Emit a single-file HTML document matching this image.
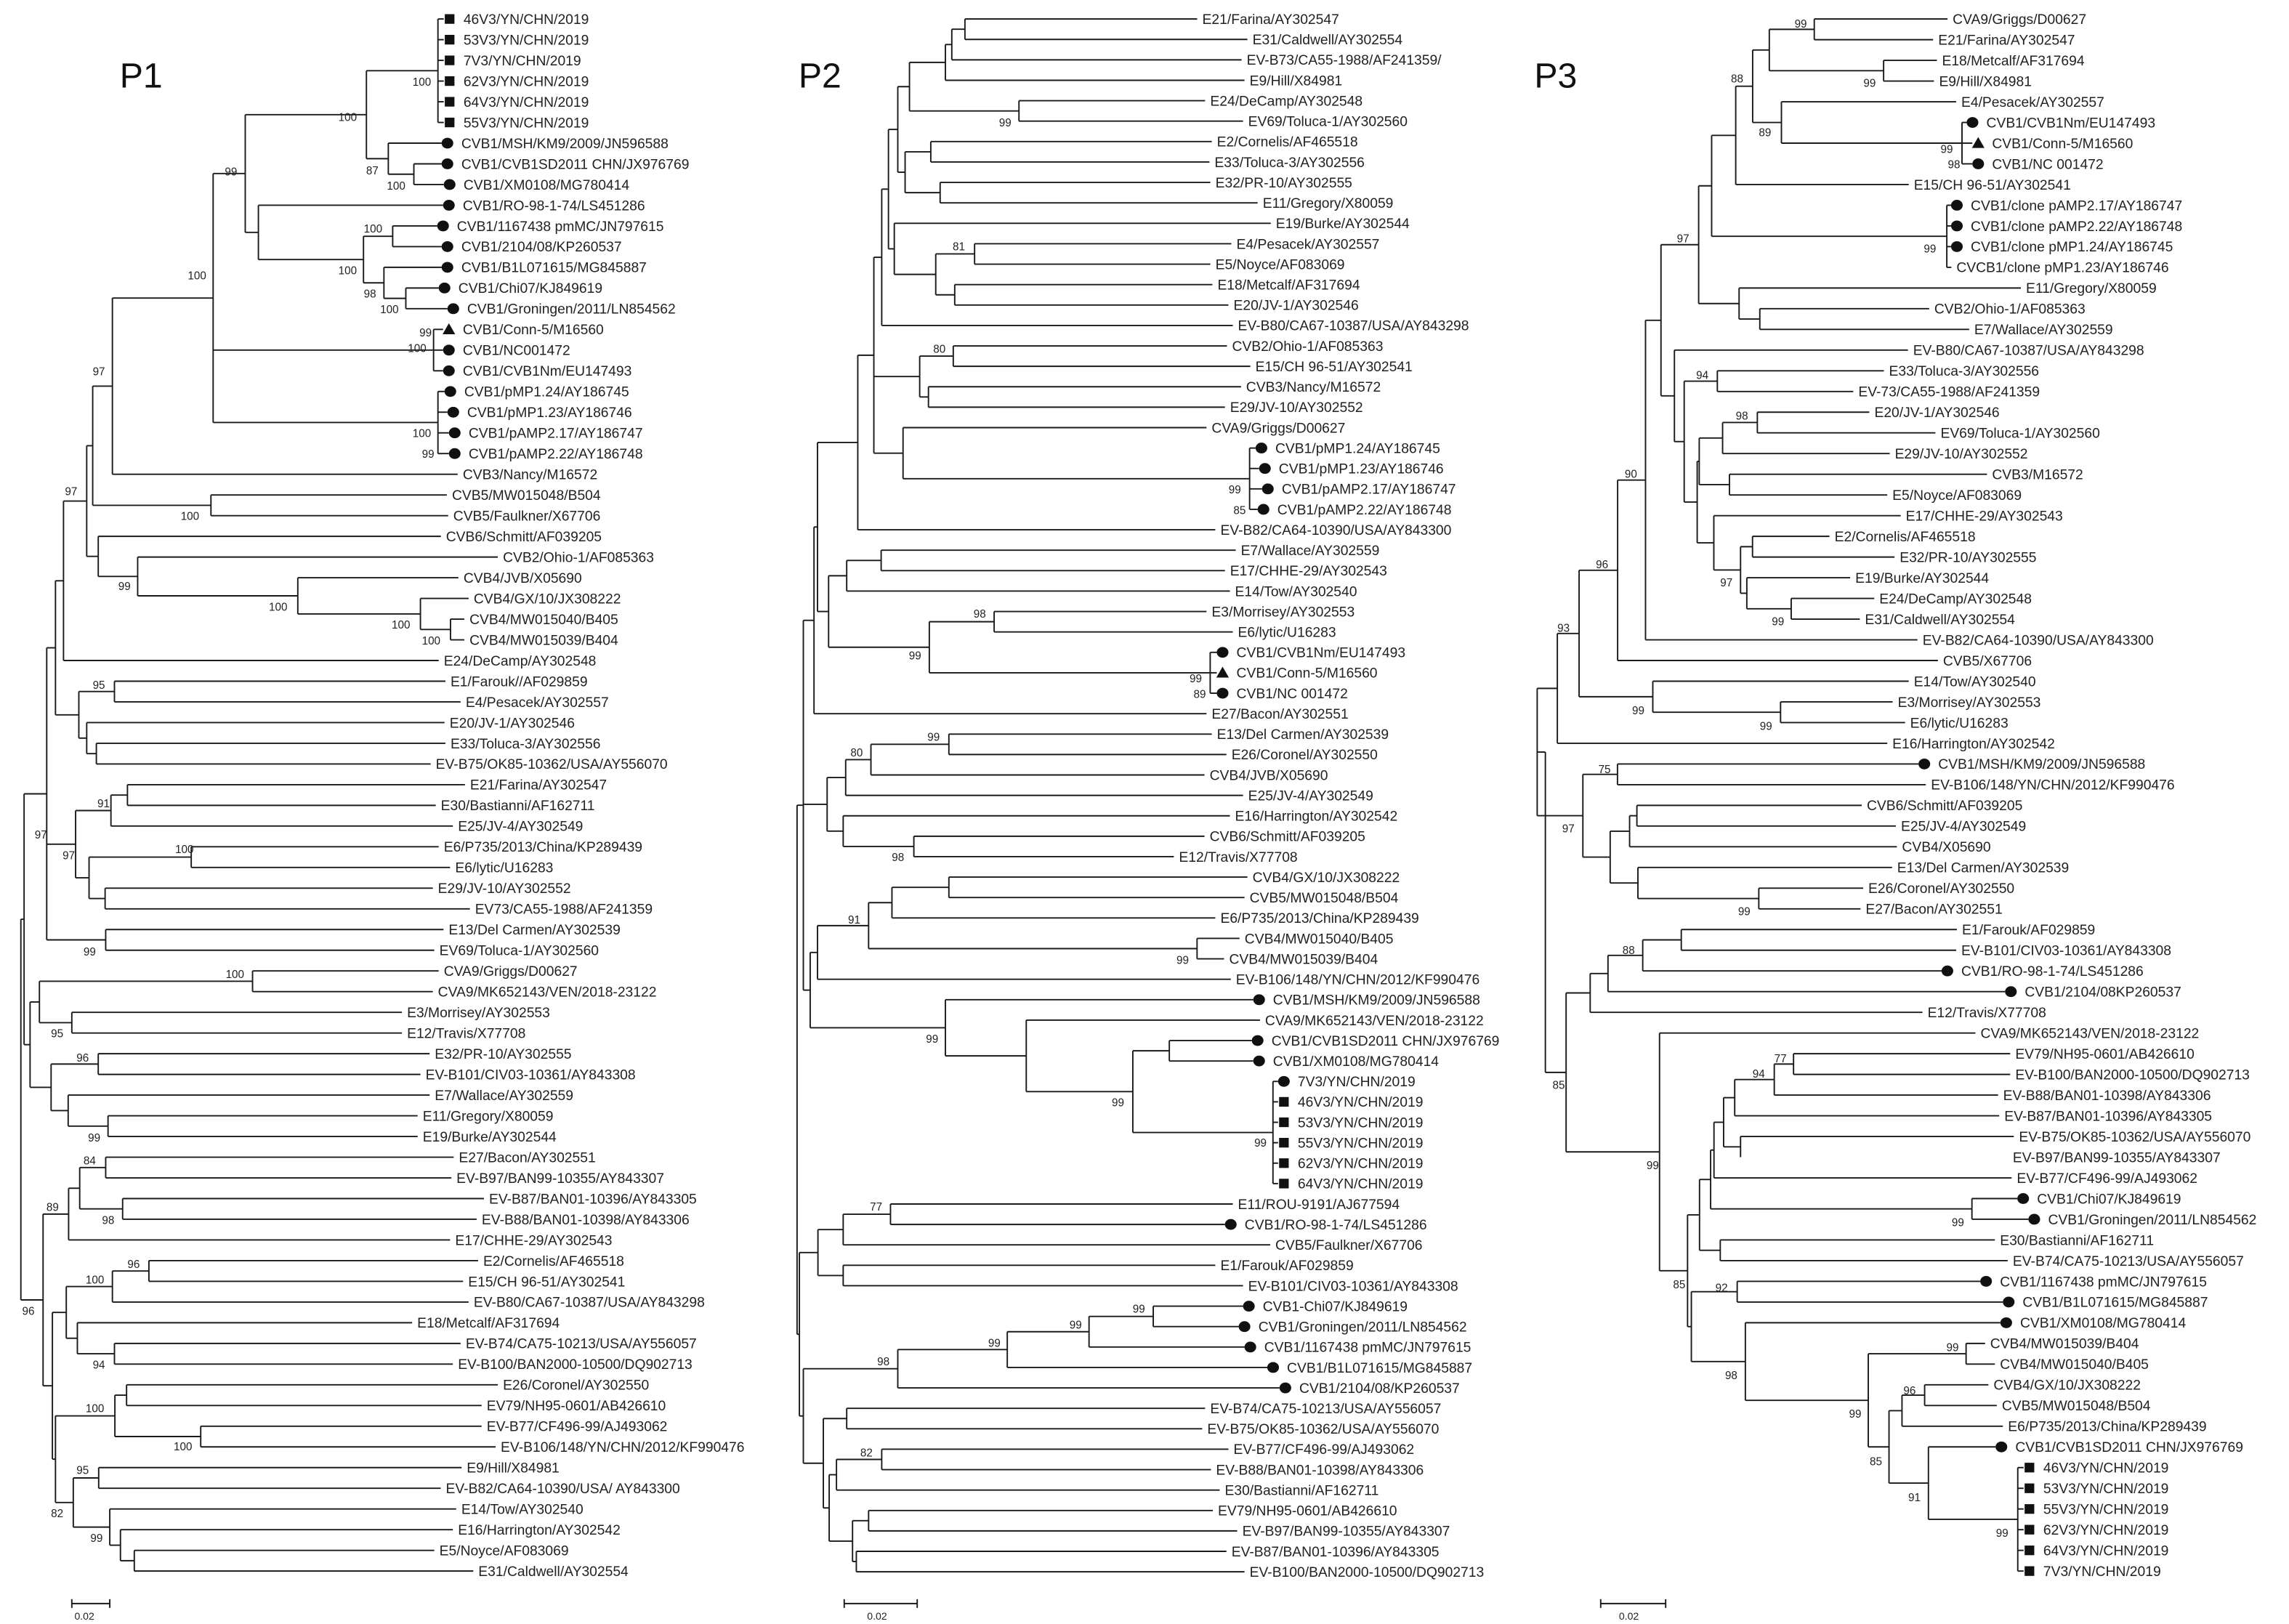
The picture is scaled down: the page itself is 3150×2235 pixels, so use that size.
<!DOCTYPE html>
<html><head><meta charset="utf-8">
<style>
html,body{margin:0;padding:0;background:#fff;}
svg{display:block;}
text{font-family:"Liberation Sans",sans-serif;}
</style></head>
<body>
<svg id="s" xmlns="http://www.w3.org/2000/svg" width="3150" height="2235" viewBox="0 0 1568 1112" preserveAspectRatio="none">
<rect width="1568" height="1112" fill="#fff"/>
<text x="82" y="60" font-size="24" fill="#111">P1</text>
<text x="547" y="60" font-size="24" fill="#111">P2</text>
<text x="1051" y="60" font-size="24" fill="#111">P3</text>
</svg>
<script>
function N(x){return {x:x,c:Array.prototype.slice.call(arguments,1)};}
function L(tx,t,m){return {tx:tx,t:t,m:m};}
function SQ(tx,names){return names.map(function(n){return L(tx,n+"/YN/CHN/2019","s");});}
function N2(x,arr){return {x:x,c:arr};}
var h='';
function ln(x1,y1,x2,y2){h+='<line x1="'+x1+'" y1="'+y1.toFixed(2)+'" x2="'+x2+'" y2="'+y2.toFixed(2)+'" stroke="#1a1a1a" stroke-width="0.95"/>';}
function esc(t){return t.replace(/&/g,'&amp;').replace(/</g,'&lt;');}
function draw(root,y0,dy){
  var idx=0;
  function lay(n,px){
    if(n.t!==undefined){
      var y=y0+idx*dy; idx++;
      var m=n.m,end=(m&&m!='n')?n.tx-13.5:n.tx-3.5;
      if(m!='n') ln(px,y,end,y);
      var cx=n.tx-9.5;
      if(m=='c')h+='<ellipse cx="'+cx+'" cy="'+y.toFixed(2)+'" rx="4" ry="3.7" fill="#111"/>';
      if(m=='s')h+='<rect x="'+(cx-3.3)+'" y="'+(y-3.3).toFixed(2)+'" width="6.6" height="6.6" fill="#111"/>';
      if(m=='t')h+='<polygon points="'+cx+','+(y-4.2).toFixed(2)+' '+(cx-4.3)+','+(y+3.3).toFixed(2)+' '+(cx+4.3)+','+(y+3.3).toFixed(2)+'" fill="#111"/>';
      h+='<text x="'+n.tx+'" y="'+(y+3.4).toFixed(2)+'" font-size="9.6" fill="#222">'+esc(n.t)+'</text>';
      return y;
    }
    var ys=n.c.map(function(c){return lay(c,n.x);});
    var a=ys[0],b=ys[ys.length-1];
    ln(n.x,a,n.x,b);
    var y=(a+b)/2;
    if(px!=null) ln(px,y,n.x,y);
    return y;
  }
  lay(root,null);
}
var P1=N(14.3,
 N(16.5,
  N(32,
   N(38,
    N(43.5,
     N(59.4,
      N(63.5,
       N(77,
        N(146,
         N(168,
          N(251, N2(300,SQ(317.5,["46V3","53V3","7V3","62V3","64V3","55V3"])),
                 N(266, L(316,"CVB1/MSH/KM9/2009/JN596588","c"), N(283.5, L(316,"CVB1/CVB1SD2011 CHN/JX976769","c"), L(317.5,"CVB1/XM0108/MG780414","c")))),
          N(177, L(317,"CVB1/RO-98-1-74/LS451286","c"),
                 N(249, N(269, L(313,"CVB1/1167438 pmMC/JN797615","c"), L(316,"CVB1/2104/08/KP260537","c")),
                        N(263, L(316,"CVB1/B1L071615/MG845887","c"), N(278, L(314,"CVB1/Chi07/KJ849619","c"), L(320,"CVB1/Groningen/2011/LN854562","c")))))
         ),
         N(297, L(317,"CVB1/Conn-5/M16560","t"), L(317,"CVB1/NC001472","c"), L(317,"CVB1/CVB1Nm/EU147493","c")),
         N(300, L(318,"CVB1/pMP1.24/AY186745","c"), L(320,"CVB1/pMP1.23/AY186746","c"), L(321,"CVB1/pAMP2.17/AY186747","c"), L(321,"CVB1/pAMP2.22/AY186748","c"))
        ),
        L(317,"CVB3/Nancy/M16572")
       ),
       N(144.5, L(309.6,"CVB5/MW015048/B504"), L(310.5,"CVB5/Faulkner/X67706"))
      ),
      N(67.3, L(305.5,"CVB6/Schmitt/AF039205"), N(94.3, L(344.5,"CVB2/Ohio-1/AF085363"), N(204, L(317.5,"CVB4/JVB/X05690"), N(288, L(324.5,"CVB4/GX/10/JX308222"), N(308.6, L(321.6,"CVB4/MW015040/B405"), L(321.6,"CVB4/MW015039/B404"))))))
     ),
     L(304,"E24/DeCamp/AY302548")
    ),
    N(54, N(78.4, L(308.6,"E1/Farouk//AF029859"), L(319,"E4/Pesacek/AY302557")), N(59.4, L(308,"E20/JV-1/AY302546"), N(66, L(308.6,"E33/Toluca-3/AY302556"), L(298.5,"EV-B75/OK85-10362/USA/AY556070"))))
   ),
   N(51.8, N(76, N(87.3, L(322,"E21/Farina/AY302547"), L(302,"E30/Bastianni/AF162711")), L(313.7,"E25/JV-4/AY302549")),
           N(61, N(131, L(304,"E6/P735/2013/China/KP289439"), L(311.8,"E6/lytic/U16283")), N(72, L(300,"E29/JV-10/AY302552"), L(325.4,"EV73/CA55-1988/AF241359")))),
   N(72.4, L(307.3,"E13/Del Carmen/AY302539"), L(301,"EV69/Toluca-1/AY302560"))
  ),
  N(20.6, N(27, N(173, L(304,"CVA9/Griggs/D00627"), L(300,"CVA9/MK652143/VEN/2018-23122")), N(49.2, L(278.8,"E3/Morrisey/AY302553"), L(278.8,"E12/Travis/X77708"))),
          N(35, N(67.3, L(297.8,"E32/PR-10/AY302555"), L(291.5,"EV-B101/CIV03-10361/AY843308")), N(46.7, L(297.8,"E7/Wallace/AY302559"), N(74, L(289.6,"E11/Gregory/X80059"), L(289.6,"E19/Burke/AY302544")))))
 ),
 N(29.5,
  N(47, N(54.6, N(72.4, L(314.3,"E27/Bacon/AY302551"), L(312.7,"EV-B97/BAN99-10355/AY843307")), N(84, L(335,"EV-B87/BAN01-10396/AY843305"), L(330,"EV-B88/BAN01-10398/AY843306"))), L(311.8,"E17/CHHE-29/AY302543")),
  N(35.9,
   N(45.4, N(77, N(102, L(331,"E2/Cornelis/AF465518"), L(320.7,"E15/CH 96-51/AY302541")), L(324.5,"EV-B80/CA67-10387/USA/AY843298")),
           N(53, L(285.8,"E18/Metcalf/AF317694"), N(78.4, L(319,"EV-B74/CA75-10213/USA/AY556057"), L(313.7,"EV-B100/BAN2000-10500/DQ902713")))),
   N(38, N(78.7, N(86.7, L(344.5,"E26/Coronel/AY302550"), L(333.4,"EV79/NH95-0601/AB426610")), N(137.5, L(333.4,"EV-B77/CF496-99/AJ493062"), L(343,"EV-B106/148/YN/CHN/2012/KF990476"))),
         N(50.2, N(67.6, L(319.7,"E9/Hill/X84981"), L(305.4,"EV-B82/CA64-10390/USA/ AY843300")),
                 N(75.2, L(316,"E14/Tow/AY302540"), N(82.5, L(313.7,"E16/Harrington/AY302542"), N(92, L(301,"E5/Noyce/AF083069"), L(327.7,"E31/Caldwell/AY302554"))))))
  )
 )
);
var P2=N(546,
 N(550.3,
  N(557.6,
   N(560,
    N(587.6,
     N(598.6,
      N(604,
       N(608.6,
        N(615,
         N(623, N(647.6, N(652, N(661, L(823.6,"E21/Farina/AY302547"), L(858,"E31/Caldwell/AY302554")), L(854,"EV-B73/CA55-1988/AF241359/")), L(856,"E9/Hill/X84981")),
                N(698, L(829,"E24/DeCamp/AY302548"), L(855,"EV69/Toluca-1/AY302560"))),
         N(620, N(637.6, L(833.6,"E2/Cornelis/AF465518"), L(832,"E33/Toluca-3/AY302556")), N(644, L(832.6,"E32/PR-10/AY302555"), L(865,"E11/Gregory/X80059")))
        ),
        N(612.6, L(874,"E19/Burke/AY302544"), N(641, N(667.6, L(847,"E4/Pesacek/AY302557"), L(832.6,"E5/Noyce/AF083069")), N(654, L(834,"E18/Metcalf/AF317694"), L(845,"E20/JV-1/AY302546"))))
       ),
       L(848,"EV-B80/CA67-10387/USA/AY843298")
      ),
      N(630, N(653, L(844,"CVB2/Ohio-1/AF085363"), L(860,"E15/CH 96-51/AY302541")), N(636, L(853.6,"CVB3/Nancy/M16572"), L(842.6,"E29/JV-10/AY302552"))),
      N(618.6, L(830,"CVA9/Griggs/D00627"), N(856, L(873.6,"CVB1/pMP1.24/AY186745","c"), L(876,"CVB1/pMP1.23/AY186746","c"), L(878,"CVB1/pAMP2.17/AY186747","c"), L(875,"CVB1/pAMP2.22/AY186748","c")))
     ),
     L(836,"EV-B82/CA64-10390/USA/AY843300")
    ),
    N(567.6, N(580, N(603.6, L(850,"E7/Wallace/AY302559"), L(842.6,"E17/CHHE-29/AY302543")), L(846,"E14/Tow/AY302540")),
             N(636.6, N(681, L(830,"E3/Morrisey/AY302553"), L(848,"E6/lytic/U16283")), N(829, L(847,"CVB1/CVB1Nm/EU147493","c"), L(847,"CVB1/Conn-5/M16560","t"), L(847,"CVB1/NC 001472","c"))))
   ),
   L(830,"E27/Bacon/AY302551")
  ),
  N(566.6, N(579.3, N(596.6, N(650, L(833.6,"E13/Del Carmen/AY302539"), L(843.6,"E26/Coronel/AY302550")), L(828.6,"CVB4/JVB/X05690")), L(855,"E25/JV-4/AY302549")),
           N(577.6, L(846,"E16/Harrington/AY302542"), N(626, L(828.6,"CVB6/Schmitt/AF039205"), L(807.6,"E12/Travis/X77708")))),
  N(555, N(560, N(595, N(611, N(650, L(858,"CVB4/GX/10/JX308222"), L(856,"CVB5/MW015048/B504")), L(836,"E6/P735/2013/China/KP289439")), N(820, L(852.6,"CVB4/MW015040/B405"), L(842,"CVB4/MW015039/B404"))), L(846.6,"EV-B106/148/YN/CHN/2012/KF990476")),
         N(647.6, L(872,"CVB1/MSH/KM9/2009/JN596588","c"),
           N(703, L(866.6,"CVA9/MK652143/VEN/2018-23122"),
             N(776, N(801, L(871,"CVB1/CVB1SD2011 CHN/JX976769","c"), L(872,"CVB1/XM0108/MG780414","c")),
                    N2(872,[L(889,"7V3/YN/CHN/2019","c")].concat(SQ(889,["46V3","53V3","55V3","62V3","64V3"])))))))
 ),
 N(547.6,
  N(560.3, N(577.6, N(610, L(848,"E11/ROU-9191/AJ677594"), L(852.6,"CVB1/RO-98-1-74/LS451286","c")), L(873.6,"CVB5/Faulkner/X67706")),
           N(577.6, L(836,"E1/Farouk/AF029859"), L(855,"EV-B101/CIV03-10361/AY843308"))),
  N(550.3,
   N(615, N(690, N(746, N(790, L(865,"CVB1-Chi07/KJ849619","c"), L(862,"CVB1/Groningen/2011/LN854562","c")), L(866,"CVB1/1167438 pmMC/JN797615","c")), L(881.6,"CVB1/B1L071615/MG845887","c")), L(890,"CVB1/2104/08/KP260537","c")),
   N(564, N(580, L(829,"EV-B74/CA75-10213/USA/AY556057"), L(827,"EV-B75/OK85-10362/USA/AY556070")),
          N(568, N(573, N(604, L(845,"EV-B77/CF496-99/AJ493062"), L(833,"EV-B88/BAN01-10398/AY843306")), L(839,"E30/Bastianni/AF162711")),
                 N(584, N(595, L(834.3,"EV79/NH95-0601/AB426610"), L(851,"EV-B97/BAN99-10355/AY843307")), N(586.6, L(843.6,"EV-B87/BAN01-10396/AY843305"), L(856,"EV-B100/BAN2000-10500/DQ902713")))))
  )
 )
);
var P3=N(1058.6,
 N(1053,
  N(1066.8,
   N(1081.7,
    N(1108.1,
     N(1127.2,
      N(1137.8,
       N(1163.6,
        N(1172.5,
         N(1189,
          N(1200.6,
           N(1212, N(1242.8, L(1337.6,"CVA9/Griggs/D00627"), L(1327.7,"E21/Farina/AY302547")), N(1290.3, L(1330.3,"E18/Metcalf/AF317694"), L(1328.3,"E9/Hill/X84981"))),
           N(1220.3, L(1343.5,"E4/Pesacek/AY302557"), N(1344, L(1360.7,"CVB1/CVB1Nm/EU147493","c"), L(1364.6,"CVB1/Conn-5/M16560","t"), L(1364.6,"CVB1/NC 001472","c")))
          ),
          L(1311,"E15/CH 96-51/AY302541")
         ),
         N(1333.6, L(1350,"CVB1/clone pAMP2.17/AY186747","c"), L(1350,"CVB1/clone pAMP2.22/AY186748","c"), L(1350,"CVB1/clone pMP1.24/AY186745","c"), L(1340.2,"CVCB1/clone pMP1.23/AY186746"))
        ),
        N(1191.3, L(1387.8,"E11/Gregory/X80059"), N(1205.5, L(1325,"CVB2/Ohio-1/AF085363"), L(1352.4,"E7/Wallace/AY302559")))
       ),
       N(1147, L(1310.5,"EV-B80/CA67-10387/USA/AY843298"),
        N(1153.7, N(1176.4, L(1294,"E33/Toluca-3/AY302556"), L(1273,"EV-73/CA55-1988/AF241359")),
         N(1162.6, N(1164, N(1180, N(1203.8, L(1284,"E20/JV-1/AY302546"), L(1329.3,"EV69/Toluca-1/AY302560")), L(1298,"E29/JV-10/AY302552")), N(1184.7, L(1364.6,"CVB3/M16572"), L(1296.3,"E5/Noyce/AF083069"))),
                   N(1174, L(1305.5,"E17/CHHE-29/AY302543"), N(1192.3, N(1200.5, L(1256.7,"E2/Cornelis/AF465518"), L(1301.3,"E32/PR-10/AY302555")), N(1196.6, L(1270.9,"E19/Burke/AY302544"), N(1227, L(1287.4,"E24/DeCamp/AY302548"), L(1277.5,"E31/Caldwell/AY302554"))))))))
      ),
      L(1317,"EV-B82/CA64-10390/USA/AY843300")
     ),
     L(1331,"CVB5/X67706")
    ),
    N(1132.2, L(1311,"E14/Tow/AY302540"), N(1219.7, L(1300,"E3/Morrisey/AY302553"), L(1308.5,"E6/lytic/U16283")))
   ),
   L(1296.3,"E16/Harrington/AY302542")
  ),
  N(1084.3, N(1108, L(1327.7,"CVB1/MSH/KM9/2009/JN596588","c"), L(1322.7,"EV-B106/148/YN/CHN/2012/KF990476")),
            N(1103, N(1116.3, N(1121.3, L(1278.8,"CVB6/Schmitt/AF039205"), L(1302.2,"E25/JV-4/AY302549")), L(1302.9,"CVB4/X05690")),
                    N(1122, L(1299.6,"E13/Del Carmen/AY302539"), N(1204.8, L(1279.8,"E26/Coronel/AY302550"), L(1278,"E27/Bacon/AY302551")))))
 ),
 N(1072.8,
  N(1089.3, N(1101.5, N(1125.3, N(1151.7, L(1344,"E1/Farouk/AF029859"), L(1343.5,"EV-B101/CIV03-10361/AY843308")), L(1343.5,"CVB1/RO-98-1-74/LS451286","c")), L(1387,"CVB1/2104/08KP260537","c")), L(1320.4,"E12/Travis/X77708")),
  N(1136.8, L(1356.7,"CVA9/MK652143/VEN/2018-23122"),
   N(1156,
    N(1164.2,
     N(1171.8,
      N(1174.1, N(1180.7, N(1188.3, N(1215.4, N(1228.6, L(1380.5,"EV79/NH95-0601/AB426610"), L(1380.5,"EV-B100/BAN2000-10500/DQ902713")), L(1372.2,"EV-B88/BAN01-10398/AY843306")), L(1373,"EV-B87/BAN01-10396/AY843305")),
                         N(1192.3, L(1383,"EV-B75/OK85-10362/USA/AY556070"), L(1378.8,"EV-B97/BAN99-10355/AY843307","n"))), L(1381.5,"EV-B77/CF496-99/AJ493062")),
      N(1350.8, L(1395.4,"CVB1/Chi07/KJ849619","c"), L(1403,"CVB1/Groningen/2011/LN854562","c"))),
     N(1178.4, L(1370,"E30/Bastianni/AF162711"), L(1378.8,"EV-B74/CA75-10213/USA/AY556057"))),
    N(1158.6, N(1190, L(1370,"CVB1/1167438 pmMC/JN797615","c"), L(1385.5,"CVB1/B1L071615/MG845887","c")),
      N(1195.6, L(1383.8,"CVB1/XM0108/MG780414","c"),
        N(1279.8, N(1346.8, L(1363.3,"CVB4/MW015039/B404"), L(1370,"CVB4/MW015040/B405")),
          N(1294, N(1302.9, N(1318.4, L(1365.6,"CVB4/GX/10/JX308222"), L(1371.3,"CVB5/MW015048/B504")), L(1375.5,"E6/P735/2013/China/KP289439")),
            N(1321, L(1380.5,"CVB1/CVB1SD2011 CHN/JX976769","c"), N2(1382.2,SQ(1399.7,["46V3","53V3","55V3","62V3","64V3","7V3"])))))))
   )
  )
 )
);
draw(P1,13,14.17);
draw(P2,13,13.99);
draw(P3,13,14.17);
var B=[
[282.6,56,"100"],[231.8,80,"100"],[250.8,116.5,"87"],[265,127,"100"],[154,117.3,"99"],[249.2,156.5,"100"],[231.8,185,"100"],[249.2,201,"98"],[260.4,211.6,"100"],[287.3,227.6,"99"],[279.4,238.2,"100"],[128.6,188.5,"100"],[63.5,254.3,"97"],
[282.6,296.4,"100"],[289,310.6,"99"],[44.5,336.4,"97"],[123.8,353.3,"100"],[81,401.3,"99"],[184.2,415.5,"100"],[268.3,427.6,"100"],[289,438.6,"100"],[63.5,468.8,"95"],
[66.7,550,"91"],[42.9,585.6,"97"],[23.8,571.4,"97"],[120,581.2,"100"],[57.2,651.4,"99"],[154.6,666.9,"100"],[34.9,707.4,"95"],[52.4,724,"96"],[60.3,778.9,"99"],[57.2,794.5,"84"],
[31.8,826.4,"89"],[69.9,835.4,"98"],[87.3,865.5,"96"],[58.7,876,"100"],[15.2,897.5,"96"],[63.5,934.4,"94"],[58.7,964.1,"100"],[119,990.2,"100"],[52.4,1006.4,"95"],[34.9,1036,"82"],[61.9,1053.1,"99"],
[684.3,83.8,"99"],[652.6,168.6,"81"],[639.3,238.8,"80"],[841.6,335,"99"],[844.9,349.3,"85"],[666.9,420.2,"98"],[622.6,448.8,"99"],[814.9,464.3,"99"],[817.6,475,"89"],[635.3,504.5,"99"],[582.6,515.2,"80"],[610.9,586.9,"98"],[580.9,629.5,"91"],[805.9,657.1,"99"],[634.3,711.2,"99"],[761.6,754.7,"99"],[859.2,782.2,"99"],[595.9,826.1,"77"],[775.9,896.1,"99"],[732.6,906.9,"99"],[676.9,919.4,"99"],[600.9,932.1,"98"],[589.3,994.4,"82"],
[1229.3,16.2,"99"],[1276.5,56.7,"99"],[1185.7,53.6,"88"],[1204.8,90.5,"89"],[1329.3,101.9,"99"],[1334.3,112.4,"98"],[1317.8,170.2,"99"],[1148.7,163.1,"97"],[1161.9,256.7,"94"],[1189,284.5,"98"],[1113,324.3,"90"],[1093.2,386.2,"96"],[1178.4,398.8,"97"],[1213.7,425.4,"99"],[1066.8,429.7,"93"],[1118,486.2,"99"],[1205.5,496.9,"99"],[1094.9,526.6,"75"],[1070.1,567.1,"97"],[1190.6,623.8,"99"],[1111.4,650.4,"88"],[1215.4,724.7,"77"],[1200.5,735,"94"],[1063.5,742.7,"85"],[1127.9,797.8,"99"],[1337,836.9,"99"],[1146.1,879.3,"85"],[1175.1,881.7,"92"],[1181.7,941.6,"98"],[1333.3,922.5,"99"],[1303.9,952,"96"],[1266.6,968,"99"],[1280.8,1000.4,"85"],[1307.2,1025,"91"],[1367.3,1049.5,"99"]];
B.forEach(function(b){h+='<text x="'+b[0]+'" y="'+(b[1]+2.8)+'" font-size="7.6" fill="#222" font-family="Liberation Serif, serif">'+b[2]+'</text>';});
[[49.2,75.2,51],[578.3,628.3,594],[1096.5,1141,1109]].forEach(function(p){
  ln(p[0],1098,p[1],1098);ln(p[0],1095,p[0],1101);ln(p[1],1095,p[1],1101);
  h+='<text x="'+p[2]+'" y="1109" font-size="7" fill="#222">0.02</text>';});
document.getElementById('s').insertAdjacentHTML('beforeend',h);
</script>
</body></html>
